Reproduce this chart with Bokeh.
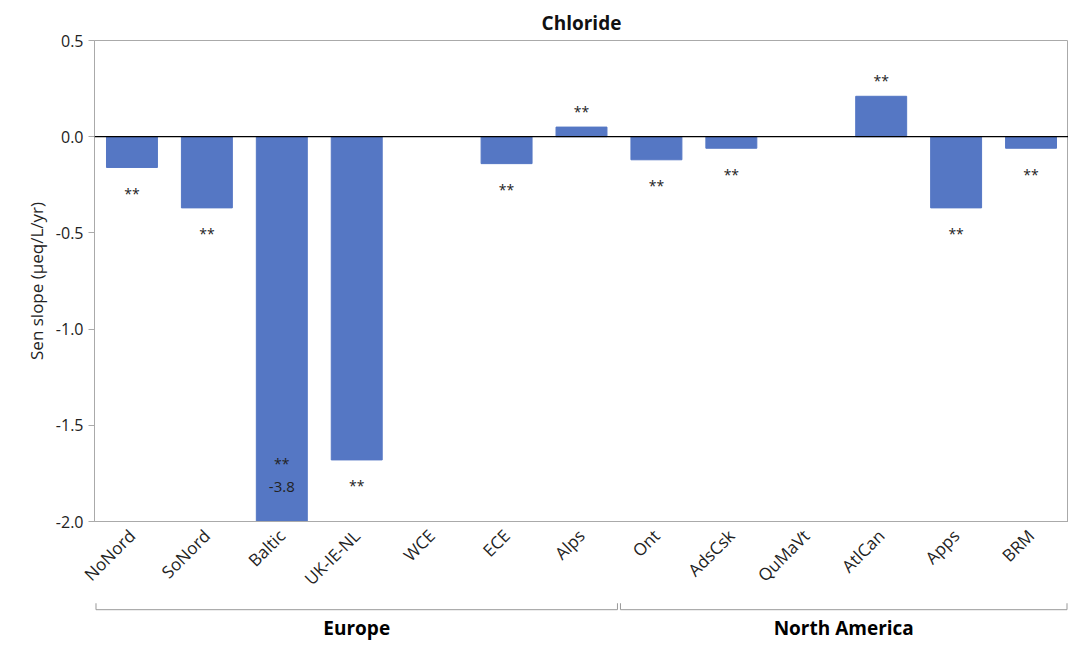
from bokeh.plotting import figure
from bokeh.models import ColumnDataSource, Range1d, FactorRange, FixedTicker, PrintfTickFormatter, Span
from bokeh.core.properties import value
from bokeh.layouts import column
from bokeh.embed import file_html
from bokeh.resources import INLINE

regions = ["NoNord", "SoNord", "Baltic", "UK-IE-NL", "WCE", "ECE", "Alps",
           "Ont", "AdsCsk", "QuMaVt", "AtlCan", "Apps", "BRM"]
slopes = [-0.16, -0.37, -3.8, -1.68, None, -0.14, 0.05,
          -0.12, -0.06, None, 0.21, -0.37, -0.06]
signif = ["**", "**", "**", "**", "", "**", "**", "**", "**", "", "**", "**", "**"]
groups = ["Europe", "North America"]
group_first = ["NoNord", "Ont"]
group_last = ["Alps", "BRM"]

Y_MIN, Y_MAX = -2.0, 0.5
FONT = "Open Sans"
BAR = "#5577C4"

xr = FactorRange(factors=regions, range_padding=0)

# bars (clipped at axis minimum)
bx, btop = [], []
for r, v in zip(regions, slopes):
    if v is not None:
        bx.append(r)
        btop.append(max(v, Y_MIN))
src = ColumnDataSource(data=dict(x=bx, top=btop))

p = figure(x_range=xr, y_range=Range1d(Y_MIN, Y_MAX), width=1068, height=600,
           output_backend="svg", toolbar_location=None, title="Chloride",
           min_border_left=94, min_border_right=0, min_border_top=40)
p.vbar(x="x", top="top", bottom=0, width=0.68, source=src, color=BAR)
p.add_layout(Span(location=0, dimension="width", line_color="black", line_width=1.2))

# significance labels
lx, ly, lt, loff = [], [], [], []
vx, vy, vt = [], [], []
for r, v, s in zip(regions, slopes, signif):
    if v is None or not s:
        continue
    if v < Y_MIN:
        lx.append(r); ly.append(Y_MIN); lt.append(s); loff.append(-58)
        vx.append(r); vy.append(Y_MIN); vt.append(f"{v:.1f}")
    elif v < 0:
        lx.append(r); ly.append(v); lt.append(s); loff.append(26)
    else:
        lx.append(r); ly.append(v); lt.append(s); loff.append(-16)
p.text(x=lx, y=ly, text=lt, y_offset=loff, text_align="center", text_baseline="middle",
       text_font=value(FONT), text_font_size="14px", text_color="#222222")
p.text(x=vx, y=vy, text=vt, y_offset=-35, text_align="center", text_baseline="middle",
       text_font=value(FONT), text_font_size="15px", text_color="#222222")

p.title.align = "center"
p.title.text_font = FONT
p.title.text_font_size = "19px"
p.title.text_font_style = "bold"
p.title.text_color = "#111111"
p.title.offset = 0
p.xgrid.grid_line_color = None
p.ygrid.grid_line_color = None
p.outline_line_color = "#aaaaaa"
p.yaxis.ticker = FixedTicker(ticks=[-2.0, -1.5, -1.0, -0.5, 0.0, 0.5])
p.yaxis.formatter = PrintfTickFormatter(format="%.1f")
p.yaxis.axis_label = "Sen slope (µeq/L/yr)"
p.yaxis.axis_label_text_font = FONT
p.yaxis.axis_label_text_font_style = "normal"
p.yaxis.axis_label_text_font_size = "17px"
p.yaxis.axis_label_text_color = "#222222"
p.yaxis.major_label_text_font = FONT
p.yaxis.major_label_text_font_size = "16px"
p.yaxis.major_label_text_color = "#222222"
p.yaxis.minor_tick_line_color = None
p.yaxis.major_tick_in = 0
p.yaxis.major_tick_out = 6
p.axis.axis_line_color = "#aaaaaa"
p.axis.major_tick_line_color = "#aaaaaa"
p.xaxis.major_tick_line_color = None
p.xaxis.major_label_orientation = 0.785
p.xaxis.major_label_text_font = FONT
p.xaxis.major_label_text_font_size = "17px"
p.xaxis.major_label_text_color = "#222222"

# group brackets below
q = figure(x_range=xr, y_range=Range1d(0, 1), width=1068, height=46,
           output_backend="svg", toolbar_location=None,
           min_border_left=94, min_border_right=0, min_border_top=0, min_border_bottom=0)
x0 = [(f, -0.48) for f in group_first]
x1 = [(l, 0.48) for l in group_last]
q.segment(x0=x0, x1=x1, y0=[0.8] * 2, y1=[0.8] * 2, line_color="#999999")
q.segment(x0=x0, x1=x0, y0=[0.8] * 2, y1=[0.94] * 2, line_color="#999999")
q.segment(x0=x1, x1=x1, y0=[0.8] * 2, y1=[0.94] * 2, line_color="#999999")
mid = [(regions[3], 0.0), (regions[9], 0.5)]
q.text(x=mid, y=[0.4] * 2, text=groups, text_align="center", text_baseline="middle",
       text_font=value(FONT), text_font_size="19px", text_font_style="bold")
q.axis.visible = False
q.grid.grid_line_color = None
q.outline_line_color = None

layout = column(p, q, spacing=0)
open("out.html", "w").write(file_html(layout, INLINE))
